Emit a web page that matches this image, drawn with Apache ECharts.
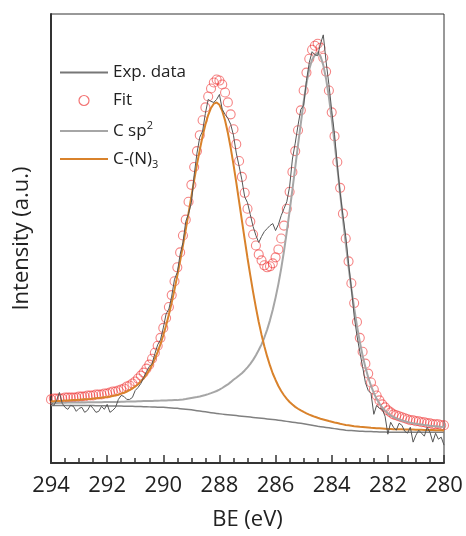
<!DOCTYPE html>
<html style="height: 100%">
<head>
	<meta charset="UTF-8">
	<title>XPS C 1s</title>
	<script src="https://cdn.jsdelivr.net/npm/echarts@6/dist/echarts.min.js"></script>
</head>
<body style="height:100%; margin:0; background:#fff">
<div id="main" style="width:466px;height:536px;"></div>
<script type="text/javascript">
	// binding energy grid: 294.0 -> 280.0 eV, 0.1 eV step
	var beStart = 294, beStep = 0.1, beCount = 141;

	// measured spectrum (a.u.)
	var expData = [
		61, 58, 63, 71, 60, 56, 54, 58, 57, 52, 55,
		56, 51, 53, 58, 55, 51, 52, 57, 54, 59,
		51, 53, 56, 64, 68, 67, 64, 64, 66, 73,
		76, 80, 86, 92, 97, 100, 110, 119, 124, 136,
		150, 155, 168, 185, 192, 210, 222, 243, 251, 262,
		290, 312, 328, 334, 352, 366, 364, 363, 366, 371,
		356, 351, 347, 341, 330, 312, 299, 285, 268, 262,
		250, 238, 229, 222, 228, 233, 236, 239, 241, 234,
		240, 249, 256, 263, 278, 306, 322, 340, 356, 360,
		385, 403, 414, 411, 410, 422, 431, 404, 381, 355,
		331, 300, 272, 249, 228, 201, 176, 148, 128, 112,
		97, 81, 73, 70, 49, 58, 55, 54, 47, 29,
		41, 36, 33, 40, 38, 32, 30, 36, 21, 28,
		33, 30, 27, 36, 31, 21, 30, 24, 26, 18
	];

	// fit envelope
	var fitData = [
		64, 65, 65, 65, 65, 66, 66, 66, 66, 66, 67,
		67, 67, 68, 68, 68, 69, 69, 69, 70, 70,
		71, 72, 72, 73, 74, 75, 77, 78, 80, 82,
		85, 88, 91, 95, 99, 105, 111, 118, 126, 136,
		146, 157, 169, 183, 197, 212, 229, 245, 263, 280,
		298, 314, 330, 345, 358, 369, 377, 383, 386, 385,
		381, 373, 363, 351, 336, 321, 304, 288, 272, 256,
		243, 230, 219, 210, 204, 199, 197, 198, 201, 207,
		215, 226, 239, 256, 273, 293, 314, 335, 355, 375,
		393, 407, 416, 420, 422, 418, 408, 394, 375, 353,
		329, 303, 277, 251, 226, 203, 181, 161, 142, 126,
		112, 100, 90, 81, 74, 68, 63, 59, 56, 53,
		51, 49, 48, 47, 46, 45, 44, 43, 43, 42,
		42, 41, 41, 40, 40, 39, 39, 39, 38, 38
	];

	// C sp2 component
	var cSp2 = [
		60.4, 60.5, 60.5, 60.6, 60.7, 60.7, 60.8, 60.8, 60.9, 60.9, 61.0,
		61.1, 61.0, 61.1, 61.1, 61.2, 61.1, 61.2, 61.2, 61.3, 61.3,
		61.4, 61.4, 61.5, 61.5, 61.7, 61.7, 61.8, 61.9, 62.0, 62.0,
		62.1, 62.2, 62.3, 62.3, 62.4, 62.5, 62.6, 62.7, 62.8, 63.0,
		63.0, 63.1, 63.2, 63.3, 63.3, 63.7, 64.0, 64.4, 64.9, 65.4,
		65.9, 66.4, 67.0, 67.7, 68.4, 69.3, 70.3, 71.4, 72.5, 73.9,
		75.5, 77.3, 79.1, 81.4, 83.8, 85.8, 88.0, 90.4, 93.2, 96.3,
		99.8, 103.8, 108.4, 113.7, 119.4, 126.3, 134.3, 143.6, 154.3, 166.5,
		180.1, 195.7, 213.3, 232.9, 253.5, 275.1, 297.7, 320.3, 341.9, 363.5,
		382.0, 396.5, 406.0, 410.5, 413.0, 409.6, 400.5, 386.6, 368.2, 346.7,
		322.6, 297.4, 271.4, 245.8, 221.0, 197.5, 175.9, 155.9, 137.9, 122.1,
		108.2, 96.3, 86.2, 77.6, 70.5, 64.6, 59.8, 55.9, 52.7, 50.0,
		48.0, 46.3, 44.9, 43.8, 42.8, 42.0, 41.3, 40.6, 40.0, 39.5,
		39.1, 38.7, 38.3, 38.0, 37.6, 37.3, 37.1, 36.8, 36.5, 36.3
	];

	// C-(N)3 component
	var cN3 = [
		62.0, 62.2, 62.3, 62.4, 62.6, 62.8, 62.9, 63.1, 63.3, 63.5, 63.7,
		63.9, 64.1, 64.3, 64.5, 64.8, 65.1, 65.4, 65.7, 66.1, 66.5,
		67.0, 67.5, 68.2, 68.8, 69.8, 70.7, 72.0, 73.3, 75.1, 77.0,
		79.3, 82.2, 85.2, 89.2, 93.4, 98.7, 104.8, 111.9, 119.6, 128.6,
		138.4, 149.5, 161.5, 174.5, 188.7, 203.4, 219.0, 235.0, 251.6, 268.2,
		284.7, 300.6, 315.2, 328.9, 340.7, 350.3, 357.4, 361.7, 362.9, 360.6,
		354.4, 345.0, 332.5, 317.5, 300.6, 282.5, 263.4, 244.3, 225.2, 206.4,
		188.9, 172.0, 156.4, 142.0, 129.2, 117.6, 107.3, 98.2, 90.1, 83.6,
		77.5, 72.5, 68.2, 64.5, 61.4, 58.8, 56.5, 54.6, 52.9, 51.4,
		50.0, 48.7, 47.6, 46.5, 45.5, 44.6, 43.8, 43.0, 42.2, 41.5,
		40.8, 40.2, 39.5, 38.9, 38.2, 37.9, 37.5, 37.1, 36.8, 36.4,
		36.2, 36.0, 35.8, 35.5, 35.3, 35.1, 34.9, 34.7, 34.5, 34.3,
		34.2, 34.1, 34.1, 34.0, 33.9, 33.8, 33.8, 33.7, 33.6, 33.5,
		33.5, 33.4, 33.3, 33.2, 33.2, 33.1, 33.0, 33.0, 32.9, 32.8
	];

	// Shirley background
	var background = [
		58, 58, 58, 58, 58, 58, 58, 58, 58, 58, 58,
		58, 57.9, 57.9, 57.8, 57.8, 57.7, 57.7, 57.6, 57.6, 57.5,
		57.5, 57.4, 57.4, 57.3, 57.3, 57.2, 57.2, 57.1, 57.1, 57,
		56.9, 56.8, 56.7, 56.6, 56.5, 56.4, 56.3, 56.2, 56.1, 56,
		55.8, 55.6, 55.4, 55.2, 55, 54.7, 54.4, 54.1, 53.8, 53.5,
		53.1, 52.7, 52.3, 51.9, 51.5, 51.1, 50.7, 50.3, 49.9, 49.5,
		49.2, 48.9, 48.6, 48.3, 48, 47.7, 47.4, 47.1, 46.8, 46.5,
		46.2, 45.9, 45.6, 45.3, 45, 44.7, 44.4, 44.1, 43.8, 43.5,
		43.1, 42.7, 42.3, 41.9, 41.5, 41.1, 40.7, 40.3, 39.9, 39.5,
		39, 38.5, 38, 37.5, 37, 36.6, 36.2, 35.8, 35.4, 35,
		34.6, 34.2, 33.8, 33.4, 33, 32.8, 32.6, 32.4, 32.2, 32,
		31.9, 31.8, 31.7, 31.6, 31.5, 31.4, 31.3, 31.2, 31.1, 31,
		31, 31, 31, 31, 31, 31, 31, 31, 31, 31,
		31, 31, 31, 31, 31, 31, 31, 31, 31, 31
	];

	var be = [];
	for (var i = 0; i < beCount; i++) {
		be.push(+(beStart - i * beStep).toFixed(1));
	}
	function pairs(arr) {
		return be.map(function (e, i) { return [e, arr[i]]; });
	}

	var font = 'Open Sans';
	var expColor = '#555555', fitColor = 'rgba(238,50,50,0.75)', sp2Color = '#a6a6a6', n3Color = '#d9822b';
	// flat bar used as the legend line sample
	var lineIcon = 'path://M0,0 L48,0 L48,2 L0,2 Z';

	var myChart = echarts.init(document.getElementById('main'));

	var option = {
		animation: false,
		textStyle: { fontFamily: font },
		grid: {
			left: 51, right: 22, top: 14, bottom: 70,
			show: true, borderColor: '#333', borderWidth: 1
		},
		legend: {
			orient: 'vertical',
			left: 55,
			top: 59,
			itemWidth: 48,
			itemHeight: 10,
			itemGap: 11,
			data: [
				{ name: 'Exp. data', icon: lineIcon, itemStyle: { color: '#777777' } },
				{ name: 'Fit', icon: 'circle', itemStyle: { color: 'rgba(0,0,0,0)', borderColor: 'rgba(238,50,50,0.85)', borderWidth: 1.2 } },
				{ name: 'C sp2', icon: lineIcon, itemStyle: { color: sp2Color } },
				{ name: 'C-(N)3', icon: lineIcon, itemStyle: { color: n3Color } }
			],
			formatter: function (name) {
				if (name === 'C sp2') return '{b|C sp}{sup|2}';
				if (name === 'C-(N)3') return '{b|C-(N)}{sub|3}';
				return '{b|' + name + '}';
			},
			textStyle: {
				color: '#222',
				rich: {
					b: { fontSize: 17, lineHeight: 22, color: '#222', fontFamily: font },
					sup: { fontSize: 11, lineHeight: 11, verticalAlign: 'top', color: '#222', fontFamily: font },
					sub: { fontSize: 11, lineHeight: 11, verticalAlign: 'bottom', color: '#222', fontFamily: font }
				}
			}
		},
		xAxis: {
			type: 'value',
			min: 280,
			max: 294,
			interval: 2,
			inverse: true,
			name: 'BE (eV)',
			nameLocation: 'middle',
			nameGap: 46,
			nameTextStyle: { fontSize: 22, color: '#222' },
			axisLine: { lineStyle: { color: '#333', width: 2 } },
			axisTick: { inside: true, length: 8, lineStyle: { color: '#333', width: 1.5 } },
			minorTick: { show: true, splitNumber: 4, length: 5, lineStyle: { color: '#333', width: 1.5 } },
			splitLine: { show: false },
			axisLabel: { fontSize: 22, color: '#222', margin: 12 }
		},
		yAxis: {
			type: 'value',
			min: 0,
			max: 452,
			name: 'Intensity (a.u.)',
			nameLocation: 'middle',
			nameGap: 18,
			nameTextStyle: { fontSize: 22, color: '#222' },
			axisLine: { show: true, lineStyle: { color: '#333', width: 2 } },
			axisTick: { show: false },
			axisLabel: { show: false },
			splitLine: { show: false }
		},
		series: [
			{
				name: 'Background',
				type: 'line',
				data: pairs(background),
				symbol: 'none',
				lineStyle: { color: '#808080', width: 1.5 }
			},
			{
				name: 'Fit',
				type: 'scatter',
				data: pairs(fitData),
				symbol: 'circle',
				symbolSize: 9,
				itemStyle: { color: 'rgba(0,0,0,0)', borderColor: fitColor, borderWidth: 1.1 }
			},
			{
				name: 'C sp2',
				type: 'line',
				data: pairs(cSp2),
				symbol: 'none',
				itemStyle: { color: sp2Color },
				lineStyle: { color: sp2Color, width: 2 }
			},
			{
				name: 'C-(N)3',
				type: 'line',
				data: pairs(cN3),
				symbol: 'none',
				itemStyle: { color: n3Color },
				lineStyle: { color: n3Color, width: 2 }
			},
			{
				name: 'Exp. data',
				type: 'line',
				data: pairs(expData),
				symbol: 'none',
				itemStyle: { color: expColor },
				lineStyle: { color: expColor, width: 1 }
			}
		]
	};
	myChart.setOption(option);
</script>
</body>
</html>
